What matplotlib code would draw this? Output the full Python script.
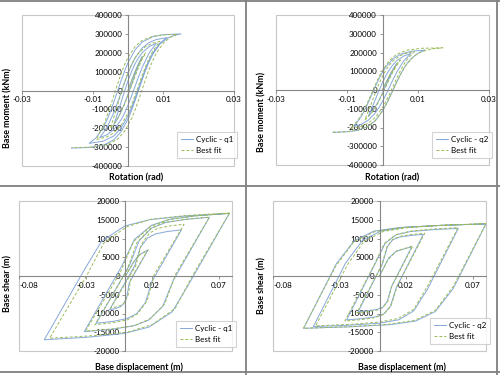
import matplotlib
matplotlib.use("Agg")
import matplotlib.pyplot as plt
from matplotlib.lines import Line2D
from matplotlib.patches import Rectangle

plt.rcParams['font.family'] = ['Lato', 'DejaVu Sans']

# ---- top left: rotation vs base moment, q1 ----
tl_cyc_x = [0, 0.001, 0.002, 0.003, 0.004,
            0.003, 0.002, 0.001, 0, -0.001, -0.002, -0.003, -0.004,
            -0.003, -0.002, -0.001, 0, 0.001, 0.002, 0.003, 0.004, 0.006, 0.008,
            0.006, 0.004, 0.003, 0.002, 0.001, 0, -0.001, -0.002, -0.004, -0.006, -0.008,
            -0.006, -0.004, -0.003, -0.002, -0.001, 0, 0.001, 0.002, 0.004, 0.006, 0.008, 0.011,
            0.009, 0.007, 0.006, 0.005, 0.004, 0.003, 0.002, 0.001, 0, -0.002, -0.004, -0.007, -0.011,
            -0.009, -0.007, -0.006, -0.005, -0.004, -0.003, -0.002, -0.001, 0, 0.002, 0.004, 0.007,
            0.010, 0.015,
            0.013, 0.011, 0.009, 0.007, 0.006, 0.005, 0.004, 0.003, 0.002, 0.001, 0, -0.002, -0.004,
            -0.007, -0.011, -0.016]
tl_cyc_y = [0, 52100, 100900, 144000, 180000,
            136000, 86200, 33000, -20100, -70000, -114000, -150700, -180000,
            -124100, -64500, -4900, 51000, 100300, 141500, 174400, 199800, 232700, 250000,
            199700, 121500, 73200, 21700, -29800, -78100, -120700, -156300, -206600, -235100, -250000,
            -197600, -116400, -66100, -12600, 41000, 91200, 135500, 172500, 224800, 254400, 269900,
            280000,
            250500, 198200, 161300, 117100, 67000, 13600, -39900, -90000, -134200, -200600, -240500,
            -268400, -280000,
            -249600, -195700, -157700, -112200, -60500, -5400, 49600, 101300, 146900, 215300, 256400,
            285200, 295500, 300000,
            291900, 275900, 245500, 191600, 153500, 107900, 56200, 1000, -54100, -105800, -151400,
            -219900, -261100, -289900, -301900, -305000]
tl_fit_x = [0, 0.001, 0.002, 0.003, 0.004, 0.005,
            0.004, 0.003, 0.002, 0.001, 0, -0.001, -0.002, -0.003, -0.004, -0.005,
            -0.004, -0.003, -0.002, -0.001, 0, 0.001, 0.002, 0.003, 0.005, 0.007, 0.009,
            0.007, 0.006, 0.005, 0.004, 0.003, 0.002, 0.001, 0, -0.002, -0.004, -0.006, -0.009,
            -0.007, -0.006, -0.005, -0.004, -0.003, -0.002, -0.001, 0, 0.002, 0.004, 0.007, 0.010, 0.014,
            0.012, 0.010, 0.008, 0.007, 0.006, 0.005, 0.004, 0.003, 0.002, 0.001, -0.001, -0.003,
            -0.006, -0.010, -0.016]
tl_fit_y = [0, 49900, 96700, 138000, 172500, 200000,
            165000, 123100, 75500, 24800, -25900, -73500, -115400, -150400, -178400, -200000,
            -141400, -78900, -16400, 42300, 93900, 137100, 171600, 198200, 232700, 250900, 260000,
            208400, 172000, 128300, 78800, 26100, -26700, -76200, -119800, -185400, -224700, -245900,
            -260000,
            -187400, -139100, -84300, -25900, 32500, 87300, 135600, 175900, 233000, 265300, 287200,
            294900, 298000,
            281900, 251200, 197000, 158700, 112800, 60700, 5200, -50300, -102400, -148300, -217200,
            -258600, -287600, -299700, -303000]

# ---- top right: rotation vs base moment, q2 ----
tr_cyc_x = [0, 0.001, 0.002, 0.003, 0.004,
            0.003, 0.002, 0.001, 0, -0.001, -0.002, -0.003, -0.004,
            -0.003, -0.002, -0.001, 0, 0.001, 0.002, 0.003, 0.004, 0.006, 0.008,
            0.006, 0.004, 0.003, 0.002, 0.001, 0, -0.001, -0.002, -0.004, -0.006, -0.008,
            -0.006, -0.005, -0.004, -0.003, -0.002, -0.001, 0, 0.001, 0.003, 0.005, 0.008, 0.012,
            0.010, 0.008, 0.007, 0.006, 0.005, 0.004, 0.003, 0.002, 0.001, 0, -0.002, -0.004, -0.007,
            -0.010, -0.014]
tr_cyc_y = [0, 40500, 78500, 112000, 140000,
            105800, 67000, 25700, -15700, -54400, -88600, -117200, -140000,
            -96400, -50000, -3600, 40000, 78400, 110500, 136100, 155900, 181500, 195000,
            155700, 94800, 57100, 16900, -23200, -60900, -94200, -121900, -161200, -183300, -195000,
            -141800, -106300, -66100, -23300, 19600, 59800, 95200, 124800, 166700, 190400, 206400,
            213000,
            196500, 165900, 143300, 114900, 80900, 42400, 1400, -39700, -78200, -112100, -163100,
            -193800, -215200, -222900, -226000]
tr_fit_x = [0, 0.001, 0.002, 0.003, 0.004, 0.005,
            0.004, 0.003, 0.002, 0.001, 0, -0.001, -0.002, -0.003, -0.004, -0.005,
            -0.004, -0.003, -0.002, -0.001, 0, 0.001, 0.002, 0.003, 0.005, 0.007, 0.009,
            0.007, 0.006, 0.005, 0.004, 0.003, 0.002, 0.001, 0, -0.002, -0.004, -0.006, -0.009,
            -0.007, -0.006, -0.005, -0.004, -0.003, -0.002, -0.001, 0, 0.002, 0.004, 0.007, 0.011, 0.017,
            0.014, 0.011, 0.009, 0.007, 0.006, 0.005, 0.004, 0.003, 0.002, 0.001, 0, -0.002, -0.004,
            -0.007, -0.010, -0.014]
tr_fit_y = [0, 39900, 77400, 110400, 138000, 160000,
            132000, 98400, 60400, 19800, -20700, -58800, -92300, -120300, -142700, -160000,
            -113500, -63900, -14300, 32200, 73200, 107500, 134800, 156000, 183400, 197700, 205000,
            164300, 135600, 101200, 62200, 20600, -21000, -60100, -94500, -146100, -177200, -193900,
            -205000,
            -162900, -133200, -97600, -57200, -14100, 28900, 69300, 105000, 158400, 190600, 213100,
            222400, 225000,
            219600, 204300, 181800, 141900, 113700, 80000, 41700, 900, -39900, -78100, -111900,
            -162600, -193000, -214300, -222000, -225000]

# ---- bottom left: displacement vs base shear, q1 ----
bl_cyc_x = [0, 0.0065, 0.011, 0.017,
            0.00282, 0.00105, -0.00133, -0.00385, -0.00756, -0.012,
            0.0069, 0.0111, 0.0167, 0.0227, 0.0315, 0.042,
            0.01992, 0.01489, 0.00818, 0.00105, -0.00942, -0.022,
            0.00308, 0.01027, 0.01985, 0.03005, 0.04502, 0.063,
            0.03593, 0.0279, 0.01718, 0.00581, -0.01092, -0.031,
            -0.003, 0.00671, 0.01967, 0.03344, 0.05369, 0.078,
            0.04811, 0.03502, 0.01756, -0.001, -0.02827, -0.061,
            -0.0311, -0.018, -0.0005, 0.018, 0.0453, 0.078]
bl_cyc_y = [0, 4000, 5800, 7000,
            -1800, -5480, -7400, -8200, -8680, -9000,
            2715, 7614, 10170, 11235, 11874, 12300,
            -1395, -7122, -10110, -11355, -12102, -12600,
            2938, 9435, 12825, 14238, 15085, 15650,
            -1125, -8140, -11800, -13325, -14240, -14850,
            2503, 9759, 13545, 15123, 16069, 16700,
            -1835, -9586, -13630, -15315, -16326, -17000,
            1535, 9286, 13330, 15015, 16026, 16700]
bl_fit_x = [0, 0.0063, 0.0105, 0.0168,
            0.00397, 0.00217, -0.00022, -0.00277, -0.00651, -0.011,
            0.00758, 0.01196, 0.01778, 0.02397, 0.03308, 0.044,
            0.02167, 0.01631, 0.00916, 0.00157, -0.0096, -0.023,
            0.00092, 0.00836, 0.0183, 0.02886, 0.04437, 0.063,
            0.03767, 0.02955, 0.01872, 0.00722, -0.0097, -0.030,
            -0.00383, 0.00599, 0.01909, 0.033, 0.05345, 0.078,
            0.05024, 0.03738, 0.02022, 0.00198, -0.02483, -0.057,
            -0.02916, -0.0163, 0.00085, 0.01906, 0.04586, 0.078]
bl_fit_y = [0, 3800, 5600, 6900,
            -800, -4804, -6806, -7730, -8192, -8500,
            2650, 8448, 11347, 12685, 13354, 13800,
            400, -6568, -10052, -11660, -12464, -13000,
            1350, 8812, 12543, 14265, 15126, 15700,
            500, -7404, -11356, -13180, -14092, -14700,
            1000, 9164, 13246, 15130, 16072, 16700,
            50, -8608, -12937, -14935, -15934, -16600,
            100, 8784, 13126, 15130, 16132, 16800]

# ---- bottom right: displacement vs base shear, q2 ----
br_cyc_x = [0, 0.0069, 0.0125, 0.0242,
            0.00888, 0.00589, 0.00266, -0.00157, -0.00804, -0.016,
            0.00224, 0.00592, 0.00991, 0.01512, 0.02309, 0.0329,
            0.0127, 0.00822, 0.00335, -0.003, -0.01273, -0.0247,
            -0.00309, 0.00439, 0.01248, 0.02307, 0.03927, 0.0592,
            0.03599, 0.02571, 0.01457, 0.0, -0.02228, -0.0497,
            -0.02543, -0.01279, 0.00092, 0.01885, 0.04626, 0.080,
            0.05534, 0.04186, 0.02725, 0.00816, -0.02105, -0.057,
            -0.03234, -0.01886, -0.00425, 0.01484, 0.04405, 0.080]
br_cyc_y = [0, 4800, 6600, 7800,
            -2926, -6732, -8289, -8895, -9241, -9500,
            3272, 7804, 9658, 10379, 10791, 11100,
            -3036, -8052, -10104, -10902, -11358, -11700,
            3428, 8796, 10992, 11846, 12334, 12700,
            -3544, -9308, -11666, -12583, -13107, -13500,
            3488, 9516, 11982, 12941, 13489, 13900,
            -3367, -9494, -12001, -12975, -13532, -13950,
            3317, 9444, 11951, 12925, 13482, 13900]
br_fit_x = [0, 0.0065, 0.013, 0.025,
            0.0093, 0.00614, 0.00246, -0.00227, -0.00911, -0.017,
            0.00171, 0.00558, 0.0101, 0.01592, 0.02431, 0.034,
            0.01335, 0.00863, 0.00312, -0.00396, -0.01419, -0.026,
            -0.00403, 0.00354, 0.01236, 0.02371, 0.0401, 0.059,
            0.03588, 0.02581, 0.01407, -0.00103, -0.02283, -0.048,
            -0.02396, -0.01148, 0.00307, 0.02179, 0.04881, 0.080,
            0.05539, 0.04187, 0.02611, 0.00584, -0.02342, -0.0572,
            -0.03259, -0.01907, -0.00331, 0.01696, 0.04622, 0.080]
br_fit_y = [0, 4400, 6700, 8000,
            -2680, -6774, -8465, -9141, -9533, -9800,
            2920, 7796, 9810, 10616, 11082, 11400,
            -2640, -8022, -10245, -11134, -11649, -12000,
            2940, 8667, 11033, 11979, 12527, 12900,
            -2820, -8846, -11335, -12331, -12907, -13300,
            3050, 9318, 11906, 12942, 13541, 13950,
            -2790, -9207, -11858, -12918, -13532, -13950,
            2790, 9207, 11858, 12918, 13532, 13950]

rot_ticks = [-0.03, -0.01, 0.01, 0.03]
rot_labels = ["-0.03", "-0.01", "0.01", "0.03"]
mom_ticks = [-400000, -300000, -200000, -100000, 0, 100000, 200000, 300000, 400000]
disp_ticks = [-0.08, -0.03, 0.02, 0.07]
disp_labels = ["-0.08", "-0.03", "0.02", "0.07"]
shear_ticks = [-20000, -15000, -10000, -5000, 0, 5000, 10000, 15000, 20000]

W, H = 500, 375
BLUE = "#86a9d8"
GREEN = "#9bbb59"
AXIS = "#868686"
FRAME = "#c8c8c8"

fig = plt.figure(figsize=(5, 3.75), dpi=100)


def panel(box, xs, ys, fx, fy, xlim, ylim, xt, xl, yt, case, xlabel, ylabel,
          xlab_pos, ylab_pos, leg_pos, first_left=False):
    l, r, t, b = box
    ax = fig.add_axes([l / W, 1 - b / H, (r - l) / W, (b - t) / H])
    ax.plot(xs, ys, color=BLUE, lw=0.7, label="Cyclic - " + case)
    ax.plot(fx, fy, color=GREEN, lw=0.7, ls=(0, (3, 2)), label="Best fit")
    ax.set_xlim(*xlim)
    ax.set_ylim(*ylim)
    ax.spines['left'].set_position('zero')
    ax.spines['bottom'].set_position('zero')
    ax.spines['top'].set_visible(False)
    ax.spines['right'].set_visible(False)
    for s in ('left', 'bottom'):
        ax.spines[s].set_color(AXIS)
        ax.spines[s].set_linewidth(0.8)
    ax.add_patch(Rectangle((0, 0), 1, 1, transform=ax.transAxes, fill=False,
                           edgecolor=FRAME, lw=0.8, clip_on=False, zorder=0))
    ax.set_xticks(xt)
    ax.set_xticklabels(xl)
    ax.set_yticks(yt)
    ax.set_yticklabels([str(v) for v in yt])
    ax.tick_params(direction='out', length=2.5, width=0.6, color=AXIS,
                   labelsize=5.8, pad=1.5)
    if first_left:
        # Excel nudges the edge label inside the plot area
        ax.get_xticklabels()[0].set_horizontalalignment('left')
    fig.text(xlab_pos[0] / W, 1 - xlab_pos[1] / H, xlabel, ha='center',
             va='center', fontsize=6.4, fontweight='bold')
    fig.text(ylab_pos[0] / W, 1 - ylab_pos[1] / H, ylabel, ha='center',
             va='center', rotation=90, fontsize=6.4, fontweight='bold')
    leg = ax.legend(loc='upper left', bbox_to_anchor=(leg_pos[0] / W, 1 - leg_pos[1] / H),
                    bbox_transform=fig.transFigure, fontsize=5.8, frameon=True,
                    fancybox=False, handlelength=1.5, borderpad=0.5,
                    labelspacing=0.5, handletextpad=0.3, borderaxespad=0)
    leg.get_frame().set_edgecolor(FRAME)
    leg.get_frame().set_linewidth(0.8)
    return ax


panel((22, 234, 15, 166), tl_cyc_x, tl_cyc_y, tl_fit_x, tl_fit_y,
      (-0.03, 0.03), (-400000, 400000), rot_ticks, rot_labels, mom_ticks, "q1",
      "Rotation (rad)", "Base moment (kNm)", (136, 178), (8, 108), (177, 132))
panel((276, 489, 15, 165), tr_cyc_x, tr_cyc_y, tr_fit_x, tr_fit_y,
      (-0.03, 0.03), (-400000, 400000), rot_ticks, rot_labels, mom_ticks, "q2",
      "Rotation (rad)", "Base moment (kNm)", (392, 178), (262, 112), (432, 132))
panel((19, 232, 201, 351), bl_cyc_x, bl_cyc_y, bl_fit_x, bl_fit_y,
      (-0.08, 0.08), (-20000, 20000), disp_ticks, disp_labels, shear_ticks, "q1",
      "Base displacement (m)", "Base shear (m)", (139, 367), (8, 283), (176, 321),
      first_left=True)
panel((273, 486, 201, 351), br_cyc_x, br_cyc_y, br_fit_x, br_fit_y,
      (-0.08, 0.08), (-20000, 20000), disp_ticks, disp_labels, shear_ticks, "q2",
      "Base displacement (m)", "Base shear (m)", (402, 367), (262, 286), (430, 318),
      first_left=True)

# panel separators and outer frame
SEP = "#808080"
for (x0, y0, x1, y1) in [(0, 1, 500, 1), (0, 186, 500, 186), (0, 372, 500, 372),
                         (246, 0, 246, 375), (497, 0, 497, 375)]:
    fig.add_artist(Line2D([x0 / W, x1 / W], [1 - y0 / H, 1 - y1 / H],
                          color=SEP, lw=1.3, transform=fig.transFigure))

fig.savefig("out.png", dpi=100)
